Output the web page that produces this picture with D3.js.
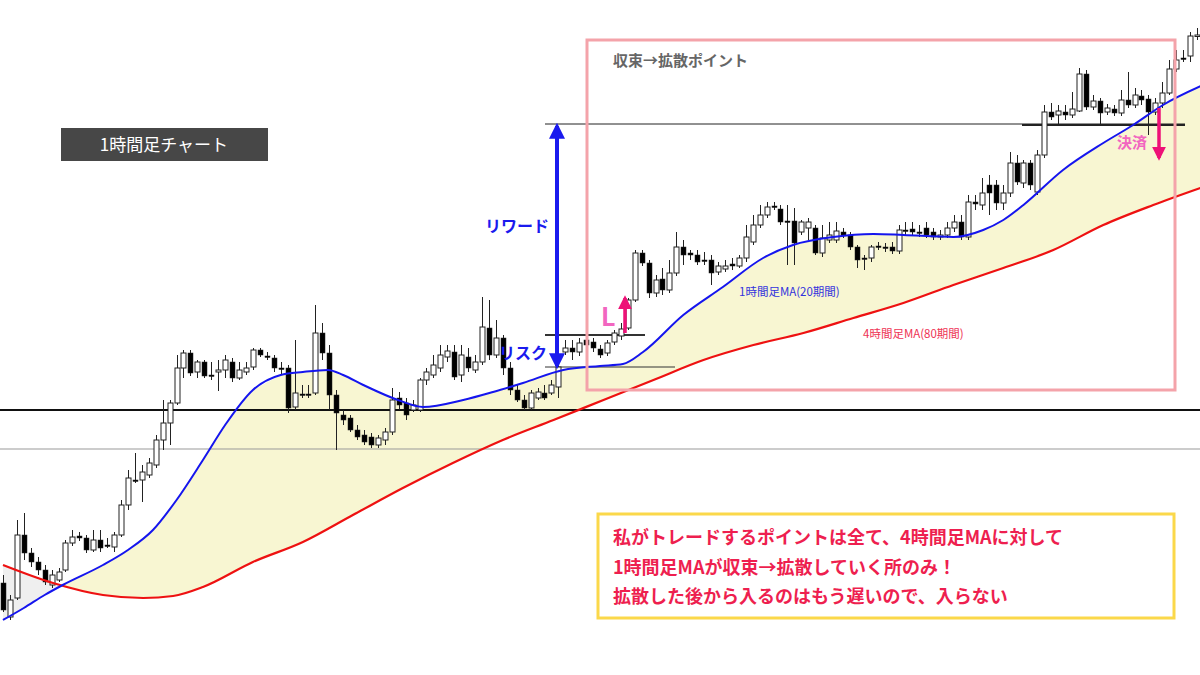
<!DOCTYPE html>
<html><head><meta charset="utf-8">
<script src="https://cdn.jsdelivr.net/npm/d3@7/dist/d3.min.js"></script>
<style>body{margin:0;background:#fff}svg{display:block;font-family:"Noto Sans CJK JP","Noto Sans",sans-serif}</style>
</head><body><svg id="c" width="1200" height="675"></svg>
<script>
// candle readings [open, close, high, low] (level units, larger = lower on chart)
const candles = [
[583,610,575,612],[617,600,595,620],[598,535,520,600],[535,553,513,560],[553,562,548,567],[562,570,557,575],[570,582,565,585],[585,575,570,588],[580,572,568,582],[570,543,540,572],
[543,537,530,546],[536,538,532,541],[538,550,535,553],[550,540,530,552],[540,548,530,552],[545,546,538,548],[547,535,532,552],[535,505,500,537],[505,478,470,510],[480,481,453,483],
[480,472,465,502],[475,463,458,478],[465,440,435,468],[440,423,400,450],[423,403,400,445],[403,368,355,405],[368,353,350,378],[353,373,350,376],[372,362,360,378],[362,376,360,378],
[375,376,362,380],[372,370,360,391],[370,360,355,378],[362,378,358,382],[378,370,362,380],[372,368,362,375],[367,350,348,370],[350,355,348,357],[356,357,352,360],[358,368,355,372],
[368,369,362,375],[368,408,365,413],[407,393,340,410],[394,395,385,398],[394,395,385,398],[393,333,305,395],[333,353,323,360],[353,395,345,410],[395,413,390,450],[415,420,410,425],
[418,430,415,432],[430,437,425,440],[435,442,430,445],[437,445,433,448],[445,438,435,448],[440,432,428,445],[432,400,388,435],[398,405,392,410],[403,415,398,420],[410,405,400,412],
[410,380,378,412],[380,372,368,385],[375,365,355,378],[368,355,345,372],[357,351,345,362],[352,377,345,380],[375,355,345,382],[357,368,348,372],[370,362,355,373],[362,327,297,365],
[328,355,300,360],[355,338,320,358],[338,368,335,375],[368,390,362,395],[390,400,385,402],[400,408,395,410],[408,393,390,410],[398,392,388,400],[393,398,385,400],[393,385,380,395],
[387,367,355,398],[352,348,340,355],[348,352,340,360],[352,343,338,356],[340,345,336,348],[342,348,338,352],[349,355,345,358],[353,343,340,356],[342,333,330,345],[336,329,323,340],
[328,300,298,330],[300,253,250,302],[253,263,250,266],[263,293,260,298],[293,280,275,297],[279,290,268,295],[290,273,260,293],[273,247,232,276],[247,255,240,265],[253,255,250,260],
[255,262,250,265],[260,261,252,265],[260,273,255,285],[272,266,262,275],[269,266,260,272],[264,266,258,270],[266,258,255,268],[258,237,225,262],[242,225,215,245],[225,215,205,228],
[215,207,202,218],[206,207,202,210],[209,222,205,225],[221,222,205,265],[221,243,208,265],[232,222,220,235],[228,222,218,240],[228,253,225,255],[253,238,225,257],[240,235,222,243],
[240,231,222,243],[232,235,228,238],[235,247,232,250],[247,260,245,268],[258,259,255,270],[258,247,245,262],[246,247,242,250],[247,248,243,252],[247,251,242,254],[251,230,225,254],
[230,231,222,236],[229,232,222,236],[232,233,225,237],[228,235,222,238],[232,237,228,240],[237,235,230,240],[235,228,222,238],[228,222,215,232],[222,237,215,240],[237,202,195,240],
[202,204,195,210],[205,193,178,210],[185,193,175,215],[185,203,180,210],[203,193,185,210],[193,163,152,197],[163,182,155,185],[183,163,160,188],[163,185,160,190],[192,155,150,195],
[155,112,105,158],[112,117,103,120],[115,111,105,124],[112,115,105,120],[115,109,92,118],[111,74,68,112],[74,107,70,110],[107,101,95,110],[101,113,98,124],[112,108,104,115],
[109,113,105,116],[113,100,90,116],[100,105,72,108],[105,95,88,108],[96,100,90,105],[99,112,95,135],[112,103,98,115],[103,93,82,108],[93,69,60,95],[69,60,50,72],
[58,59,50,62],[56,36,32,62],[36,35,28,40]
];
// 1H MA(20) readings [bar index, level]
const ma20 = [[0,620],[3,608],[6,595],[8.6,585],[14.4,565],[18,550],[21.6,530],[25,500],[28.8,460],[32,425],[36,390],[40,375],[43.2,372],[46.8,370],[49,375],[51.9,385],[56.9,400],[60.5,407],[66.3,400],[70.6,392],[74.9,383],[80.7,370],[86,366],[89.3,364],[92.2,352],[98,315],[103.7,287],[109.5,258],[113.8,245],[119.6,237],[125.4,234],[129.7,235],[136.9,237],[141.2,230],[144.1,220],[147,205],[152.7,170],[158.5,143],[162.8,125],[167.1,105],[172.9,85]];
// 4H MA(80) readings [bar index, level]
const ma80 = [[0,565],[7.2,583],[14.4,595],[20.2,598],[24.5,596],[28.8,587],[36,562],[43.2,542],[50.4,515],[57.6,488],[64.8,463],[72,440],[79.3,420],[86.5,400],[93.7,380],[100.9,360],[108.1,345],[115.3,333],[122.5,318],[129.7,303],[136.9,285],[144.1,268],[151.3,250],[158.5,225],[165.7,205],[172.9,187]];
const levelsMain = [410]; const levelsSub = [449];
const rewardTop = 124, entryLevel = 335, stopLevel = 367, exitLevel = 125;

const svg = d3.select("#c");
const x = d3.scaleLinear().domain([0, candles.length-1]).range([3, 1197]);
const y = d3.scaleLinear().domain([0, 675]).range([0, 675]);
const f20 = d3.scaleLinear().domain(ma20.map(d=>d[0])).range(ma20.map(d=>d[1]));
const f80 = d3.scaleLinear().domain(ma80.map(d=>d[0])).range(ma80.map(d=>d[1]));
const samp = d3.range(0, 172.95, 0.25);
const area = d3.area().x(d=>x(d)).y0(d=>y(f80(d))).y1(d=>y(f20(d))).curve(d3.curveMonotoneX);
svg.append("path").datum(samp.filter(d=>d<=8.7)).attr("d",area).attr("fill","#efefef");
svg.append("path").datum(samp.filter(d=>d>=8.5)).attr("d",area).attr("fill","#f8f6d2");

// level lines
svg.selectAll(".lm").data(levelsMain).join("line").attr("x1",0).attr("x2",1200).attr("y1",d=>y(d)).attr("y2",d=>y(d)).attr("stroke","#111").attr("stroke-width",2);
svg.selectAll(".ls").data(levelsSub).join("line").attr("x1",0).attr("x2",1200).attr("y1",d=>y(d)).attr("y2",d=>y(d)).attr("stroke","#999").attr("stroke-width",1);
svg.append("line").attr("x1",545).attr("x2",1185).attr("y1",y(rewardTop)).attr("y2",y(rewardTop)).attr("stroke","#222").attr("stroke-width",1);
svg.append("line").attr("x1",1022).attr("x2",1185).attr("y1",y(exitLevel)).attr("y2",y(exitLevel)).attr("stroke","#222").attr("stroke-width",2);
svg.append("line").attr("x1",545).attr("x2",645).attr("y1",y(entryLevel)).attr("y2",y(entryLevel)).attr("stroke","#333").attr("stroke-width",2);
svg.append("line").attr("x1",545).attr("x2",675).attr("y1",y(stopLevel)).attr("y2",y(stopLevel)).attr("stroke","#333").attr("stroke-width",1);

// candles
const g = svg.append("g");
candles.forEach((d,i)=>{
  const cx = Math.round(x(i))+0.5, up = d[1] < d[0];
  g.append("line").attr("x1",cx).attr("x2",cx).attr("y1",y(d[2])).attr("y2",y(d[3])).attr("stroke","#222").attr("stroke-width",1);
  const top = Math.min(d[0],d[1]), h = Math.max(1.5, Math.abs(d[1]-d[0]));
  g.append("rect").attr("x",cx-2.5).attr("y",y(top)).attr("width",5).attr("height",h)
   .attr("fill", up ? "#fff" : "#000").attr("stroke","#222").attr("stroke-width",up?1:0.5);
});

// MAs
const line = d3.line().x(d=>x(d[0])).y(d=>y(d[1])).curve(d3.curveMonotoneX);
svg.append("path").datum(ma80).attr("d",line).attr("fill","none").attr("stroke","#ee1111").attr("stroke-width",2.2);
svg.append("path").datum(ma20).attr("d",line).attr("fill","none").attr("stroke","#1515ee").attr("stroke-width",2);

// arrows
const defs = svg.append("defs");
function marker(id,col){defs.append("marker").attr("id",id).attr("viewBox","0 0 10 10").attr("refX",8).attr("refY",5)
 .attr("markerWidth",4).attr("markerHeight",4.5).attr("orient","auto").attr("markerUnits","strokeWidth")
 .append("path").attr("d","M0,0L10,5L0,10z").attr("fill",col);}
marker("mb","#1a1aee"); marker("mp","#ee1177");
svg.append("line").attr("x1",557).attr("x2",557).attr("y1",y(entryLevel)).attr("y2",y(rewardTop)+2).attr("stroke","#1a1aee").attr("stroke-width",4).attr("marker-end","url(#mb)");
svg.append("line").attr("x1",557).attr("x2",557).attr("y1",y(entryLevel)-2).attr("y2",y(stopLevel)-1).attr("stroke","#1a1aee").attr("stroke-width",4).attr("marker-end","url(#mb)");
svg.append("line").attr("x1",625).attr("x2",625).attr("y1",333).attr("y2",298).attr("stroke","#ee1177").attr("stroke-width",3.5).attr("marker-end","url(#mp)");
svg.append("line").attr("x1",1159).attr("x2",1159).attr("y1",108).attr("y2",158).attr("stroke","#ee1177").attr("stroke-width",3.5).attr("marker-end","url(#mp)");

// pink box
svg.append("rect").attr("x",587).attr("y",40).attr("width",588).attr("height",350).attr("fill","none").attr("stroke","#f4a3aa").attr("stroke-width",3);
svg.append("text").attr("x",613).attr("y",66).attr("font-size",15).attr("font-weight","bold").attr("fill","#666").text("収束→拡散ポイント");

// labels
svg.append("rect").attr("x",61).attr("y",128).attr("width",207).attr("height",33).attr("fill","#474747");
svg.append("text").attr("x",164).attr("y",151).attr("text-anchor","middle").attr("font-size",17).attr("fill","#fff").text("1時間足チャート");
svg.append("text").attr("x",549).attr("y",232).attr("text-anchor","end").attr("font-size",16).attr("font-weight","bold").attr("fill","#1a1aee").text("リワード");
svg.append("text").attr("x",547).attr("y",359).attr("text-anchor","end").attr("font-size",16).attr("font-weight","bold").attr("fill","#1a1aee").text("リスク");
svg.append("text").attr("x",601).attr("y",326).attr("font-size",25).attr("font-weight","bold").attr("fill","#f266c0").text("L");
svg.append("text").attr("x",1117).attr("y",148).attr("font-size",15).attr("font-weight","bold").attr("fill","#f266c0").text("決済");
svg.append("text").attr("x",739).attr("y",296).attr("font-size",11.5).attr("fill","#3333dd").text("1時間足MA(20期間)");
svg.append("text").attr("x",863).attr("y",338).attr("font-size",11.5).attr("fill","#ee3355").text("4時間足MA(80期間)");

// note box
svg.append("rect").attr("x",598).attr("y",514).attr("width",576).attr("height",104).attr("fill","#fff").attr("stroke","#fbd84a").attr("stroke-width",3);
const notes = ["私がトレードするポイントは全て、4時間足MAに対して","1時間足MAが収束→拡散していく所のみ！","拡散した後から入るのはもう遅いので、入らない"];
svg.selectAll(".nt").data(notes).join("text").attr("x",613).attr("y",(d,i)=>544+i*29.5).attr("font-size",18).attr("font-weight","bold").attr("fill","#ee1f4f").text(d=>d);
</script></body></html>
